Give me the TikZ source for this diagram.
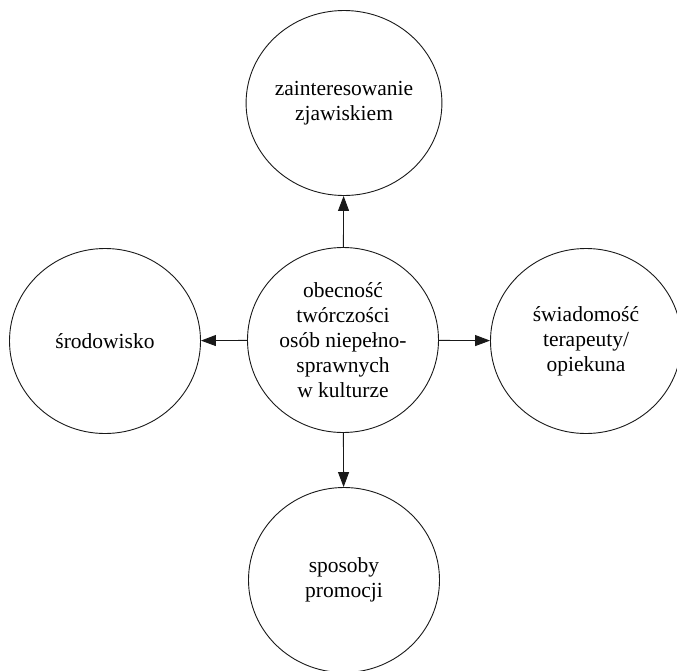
\documentclass[tikz,border=0pt]{standalone}
\usepackage{fontspec}
\setmainfont{Liberation Serif}
\usetikzlibrary{shapes.geometric,arrows.meta}
\begin{document}
\begin{tikzpicture}[x=1pt,y=-1pt,
  bub/.style={draw=black!90, line width=0.9pt, ellipse, inner sep=0pt,
    minimum width=191pt, minimum height=185pt, align=center,
    font=\fontsize{21.5}{25}\selectfont},
  conn/.style={draw=black!90, line width=0.9pt, -{Triangle[length=15pt,width=11pt]}, shorten >=0pt}]
\useasboundingbox (0,0) rectangle (677,670);
\node[bub] (c) at (343,340) {obecność\\twórczości\\osób niepełno-\\sprawnych\\w kulturze};
\node[bub] (t) at (344,103) {zainteresowanie\\zjawiskiem};
\node[bub] (l) at (105,341) {środowisko};
\node[bub] (r) at (586,341) {świadomość\\terapeuty/\\opiekuna};
\node[bub] (b) at (344,580) {sposoby\\promocji};
\draw[conn] (c) -- (t);
\draw[conn] (c) -- (l);
\draw[conn] (c) -- (r);
\draw[conn] (c) -- (b);
\end{tikzpicture}
\end{document}
